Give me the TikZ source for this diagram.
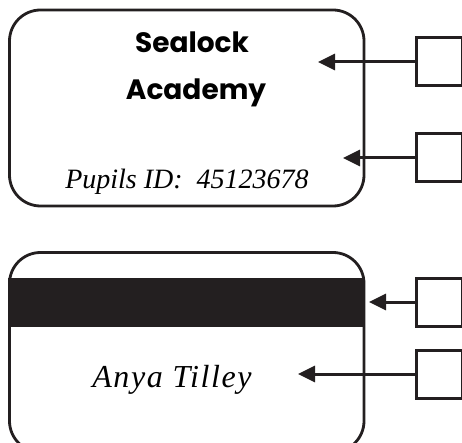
\documentclass[tikz,border=0pt]{standalone}
\usepackage{fontspec}
\usetikzlibrary{arrows.meta}
\setmainfont{Liberation Serif}
\newfontfamily\titlefont{Poppins}
\newfontfamily\namefont{Liberation Serif}[LetterSpace=5]
\definecolor{ink}{HTML}{231F20}
\begin{document}
\begin{tikzpicture}[x=1pt,y=-1pt,
  card/.style={draw=ink,line width=2.8pt,rounded corners=31pt},
  ansbox/.style={draw=ink,line width=3pt,minimum width=46pt,minimum height=48pt,inner sep=0pt},
  pointer/.style={draw=ink,line width=3pt,-{Triangle[length=17pt,width=16pt]}},
  cardtitle/.style={anchor=base,font=\titlefont\bfseries\fontsize{28}{32}\selectfont,text=black},
  cardinfo/.style={anchor=base,font=\itshape\fontsize{28}{32}\selectfont,text=black},
  cardname/.style={anchor=base,font=\namefont\itshape\fontsize{32}{36}\selectfont,text=black}]
\useasboundingbox (0,0) rectangle (462,443);
\clip (0,0) rectangle (462,443);
% front of card
\draw[card] (9.5,10) rectangle (364,206);
\node[cardtitle] (t1) at (192,53) {Sealock};
\node[cardtitle] (t2) at (196,100) {Academy};
\node[cardinfo] (id) at (187,189) {Pupils ID:\ \ 45123678};
% back of card
\draw[card] (9.5,252.5) rectangle (364,452);
\fill[ink] (8.1,278) rectangle (365.4,327);
\node[cardname] (nm) at (172,387) {Anya Tilley};
% answer boxes
\node[ansbox] (b1) at (439,62) {};
\node[ansbox] (b2) at (439,158) {};
\node[ansbox] (b3) at (439,302) {};
\node[ansbox] (b4) at (439,374) {};
\coordinate (p1) at (318,62);
\coordinate (p2) at (343,158);
\coordinate (p3) at (369,302);
\coordinate (p4) at (298,374);
\draw[pointer] (b1.west) -- (p1);
\draw[pointer] (b2.west) -- (p2);
\draw[pointer] (b3.west) -- (p3);
\draw[pointer] (b4.west) -- (p4);
\end{tikzpicture}
\end{document}
